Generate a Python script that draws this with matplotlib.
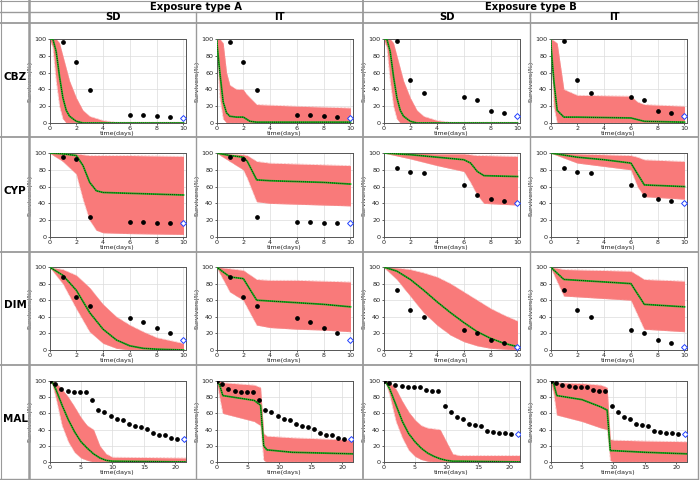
import matplotlib
matplotlib.use('Agg')
import matplotlib.pyplot as plt
from matplotlib.lines import Line2D

# ---------------- labels ----------------
row_names = ['CBZ', 'CYP', 'DIM', 'MAL']
exposure_names = ['Exposure type A', 'Exposure type B']
model_names = ['SD', 'IT']
x_label = 'time(days)'
y_label = 'Survivors(%)'

# ---------------- observations ----------------
obs_t10 = [1, 2, 3, 6, 7, 8, 9, 10]
cbz_A_obs = [97, 73, 39, 9, 9, 8, 7, 6]
cbz_B_obs = [98, 51, 36, 31, 27, 14, 12, 8]
cyp_A_obs = [95, 93, 24, 18, 18, 17, 17, 17]
cyp_B_obs = [82, 77, 76, 62, 50, 45, 43, 40]
dim_A_obs = [88, 64, 53, 38, 34, 27, 20, 12]
dim_B_obs = [72, 48, 40, 24, 20, 12, 8, 4]
obs_t22 = [0, 0.95, 1.9, 2.9, 3.9, 4.85, 5.8, 6.8, 7.75, 8.7, 9.7, 10.65,
           11.6, 12.6, 13.55, 14.5, 15.5, 16.45, 17.4, 18.4, 19.35, 20.3, 21.3]
mal_A_obs = [100, 96, 90, 88, 87, 86, 86, 77, 64, 62, 57, 53, 52, 47, 45, 43,
             41, 36, 33, 33, 30, 29, 28]
mal_B_obs = [100, 98, 95, 94, 93, 93, 92, 89, 88, 88, 69, 62, 56, 53, 47, 46,
             44, 38, 37, 36, 36, 35, 35]

# ---------------- model predictions (median, lower, upper) ----------------
cbz_A_sd_t = [0, 0.25, 0.5, 0.75, 1, 1.25, 1.5, 2, 2.5, 3, 4, 5, 6, 8, 10]
cbz_A_sd_med = [100, 100, 85, 55, 30, 15, 8, 2, 0, 0, 0, 0, 0, 0, 0]
cbz_A_sd_lo = [100, 90, 50, 20, 5, 0, 0, 0, 0, 0, 0, 0, 0, 0, 0]
cbz_A_sd_hi = [100, 100, 100, 95, 80, 65, 50, 30, 15, 8, 3, 1, 1, 1, 1]

cbz_A_it_t = [0, 0.25, 0.5, 0.75, 1, 1.5, 2, 2.2, 2.5, 3, 6, 10]
cbz_A_it_med = [100, 60, 25, 12, 8, 7, 7, 5, 2, 1, 1, 1]
cbz_A_it_lo = [100, 30, 5, 0, 0, 0, 0, 0, 0, 0, 0, 0]
cbz_A_it_hi = [100, 100, 95, 60, 45, 40, 40, 35, 30, 22, 20, 18]

cbz_B_sd_t = [0, 0.25, 0.5, 0.75, 1, 1.25, 1.5, 2, 2.5, 3, 4, 5, 6, 8, 10]
cbz_B_sd_med = [100, 100, 85, 55, 30, 15, 8, 2, 0, 0, 0, 0, 0, 0, 0]
cbz_B_sd_lo = [100, 90, 50, 20, 5, 0, 0, 0, 0, 0, 0, 0, 0, 0, 0]
cbz_B_sd_hi = [100, 100, 100, 95, 80, 65, 50, 30, 15, 8, 3, 1, 1, 1, 1]

cbz_B_it_t = [0, 0.25, 0.5, 1, 2, 6, 6.5, 7, 10]
cbz_B_it_med = [100, 50, 15, 7, 7, 6, 4, 2, 1]
cbz_B_it_lo = [100, 20, 0, 0, 0, 0, 0, 0, 0]
cbz_B_it_hi = [100, 98, 95, 40, 33, 32, 25, 22, 20]

cyp_A_sd_t = [0, 1, 2, 2.5, 3, 3.5, 4, 6, 10]
cyp_A_sd_med = [100, 99, 97, 85, 65, 55, 53, 52, 50]
cyp_A_sd_lo = [100, 90, 75, 45, 20, 8, 5, 4, 3]
cyp_A_sd_hi = [100, 100, 99, 98, 97, 97, 97, 97, 96]

cyp_A_it_t = [0, 1, 2, 2.3, 3, 4, 6, 8, 10]
cyp_A_it_med = [100, 97, 95, 90, 68, 67, 66, 65, 63]
cyp_A_it_lo = [100, 90, 80, 70, 42, 40, 39, 38, 37]
cyp_A_it_hi = [100, 99, 98, 97, 90, 88, 87, 86, 85]

cyp_B_sd_t = [0, 2, 4, 6, 6.5, 7, 7.5, 10]
cyp_B_sd_med = [100, 98, 95, 92, 88, 78, 73, 72]
cyp_B_sd_lo = [100, 93, 85, 78, 65, 50, 40, 38]
cyp_B_sd_hi = [100, 100, 99, 99, 98, 97, 97, 96]

cyp_B_it_t = [0, 2, 4, 6, 6.5, 7, 10]
cyp_B_it_med = [100, 95, 92, 88, 75, 62, 60]
cyp_B_it_lo = [100, 88, 84, 80, 60, 48, 45]
cyp_B_it_hi = [100, 99, 98, 97, 95, 92, 90]

dim_A_sd_t = [0, 1, 2, 3, 4, 5, 6, 7, 8, 10]
dim_A_sd_med = [100, 90, 72, 45, 25, 12, 5, 2, 1, 0]
dim_A_sd_lo = [100, 80, 50, 22, 8, 2, 0, 0, 0, 0]
dim_A_sd_hi = [100, 97, 90, 75, 55, 40, 30, 22, 15, 8]

dim_A_it_t = [0, 1, 2, 3, 4, 6, 8, 10]
dim_A_it_med = [100, 88, 86, 60, 59, 57, 55, 52]
dim_A_it_lo = [100, 70, 60, 30, 27, 25, 24, 22]
dim_A_it_hi = [100, 98, 96, 85, 84, 84, 83, 82]

dim_B_sd_t = [0, 1, 2, 3, 4, 5, 6, 7, 8, 9, 10]
dim_B_sd_med = [100, 95, 85, 72, 58, 45, 33, 22, 14, 8, 4]
dim_B_sd_lo = [100, 85, 65, 45, 30, 18, 10, 5, 2, 1, 0]
dim_B_sd_hi = [100, 99, 97, 93, 88, 80, 70, 60, 50, 42, 35]

dim_B_it_t = [0, 1, 6, 7, 10]
dim_B_it_med = [100, 85, 80, 55, 52]
dim_B_it_lo = [100, 65, 60, 25, 22]
dim_B_it_hi = [100, 97, 95, 85, 83]

mal_A_sd_t = [0, 0.5, 1, 2, 3, 4, 5, 6, 7, 8, 9, 10, 22]
mal_A_sd_med = [100, 98, 90, 70, 52, 37, 25, 17, 10, 5, 2, 1, 0]
mal_A_sd_lo = [100, 95, 80, 45, 25, 12, 5, 2, 0, 0, 0, 0, 0]
mal_A_sd_hi = [100, 100, 98, 90, 80, 68, 55, 45, 40, 20, 10, 6, 5]

mal_A_it_t = [0, 0.5, 1, 6, 7, 7.5, 8, 12, 22]
mal_A_it_med = [100, 95, 82, 76, 70, 20, 15, 12, 10]
mal_A_it_lo = [100, 80, 60, 50, 45, 2, 0, 0, 0]
mal_A_it_hi = [100, 100, 98, 95, 92, 35, 32, 30, 27]

mal_B_sd_t = [0, 0.5, 1, 2, 3, 4, 5, 6, 7, 8, 9, 10, 11, 12, 22]
mal_B_sd_med = [100, 97, 90, 70, 50, 35, 25, 17, 11, 7, 4, 2, 1, 1, 0]
mal_B_sd_lo = [100, 95, 82, 50, 30, 15, 7, 3, 1, 0, 0, 0, 0, 0, 0]
mal_B_sd_hi = [100, 100, 98, 90, 75, 62, 52, 45, 42, 41, 40, 25, 10, 8, 8]

mal_B_it_t = [0, 0.5, 1, 5, 8, 9, 9.5, 10, 15, 22]
mal_B_it_med = [100, 97, 82, 77, 68, 64, 14, 14, 12, 10]
mal_B_it_lo = [100, 85, 58, 50, 42, 40, 2, 0, 0, 0]
mal_B_it_hi = [100, 100, 98, 97, 95, 92, 28, 27, 26, 25]

panels = [
    [(cbz_A_sd_t, cbz_A_sd_med, cbz_A_sd_lo, cbz_A_sd_hi, obs_t10, cbz_A_obs),
     (cbz_A_it_t, cbz_A_it_med, cbz_A_it_lo, cbz_A_it_hi, obs_t10, cbz_A_obs),
     (cbz_B_sd_t, cbz_B_sd_med, cbz_B_sd_lo, cbz_B_sd_hi, obs_t10, cbz_B_obs),
     (cbz_B_it_t, cbz_B_it_med, cbz_B_it_lo, cbz_B_it_hi, obs_t10, cbz_B_obs)],
    [(cyp_A_sd_t, cyp_A_sd_med, cyp_A_sd_lo, cyp_A_sd_hi, obs_t10, cyp_A_obs),
     (cyp_A_it_t, cyp_A_it_med, cyp_A_it_lo, cyp_A_it_hi, obs_t10, cyp_A_obs),
     (cyp_B_sd_t, cyp_B_sd_med, cyp_B_sd_lo, cyp_B_sd_hi, obs_t10, cyp_B_obs),
     (cyp_B_it_t, cyp_B_it_med, cyp_B_it_lo, cyp_B_it_hi, obs_t10, cyp_B_obs)],
    [(dim_A_sd_t, dim_A_sd_med, dim_A_sd_lo, dim_A_sd_hi, obs_t10, dim_A_obs),
     (dim_A_it_t, dim_A_it_med, dim_A_it_lo, dim_A_it_hi, obs_t10, dim_A_obs),
     (dim_B_sd_t, dim_B_sd_med, dim_B_sd_lo, dim_B_sd_hi, obs_t10, dim_B_obs),
     (dim_B_it_t, dim_B_it_med, dim_B_it_lo, dim_B_it_hi, obs_t10, dim_B_obs)],
    [(mal_A_sd_t, mal_A_sd_med, mal_A_sd_lo, mal_A_sd_hi, obs_t22, mal_A_obs),
     (mal_A_it_t, mal_A_it_med, mal_A_it_lo, mal_A_it_hi, obs_t22, mal_A_obs),
     (mal_B_sd_t, mal_B_sd_med, mal_B_sd_lo, mal_B_sd_hi, obs_t22, mal_B_obs),
     (mal_B_it_t, mal_B_it_med, mal_B_it_lo, mal_B_it_hi, obs_t22, mal_B_obs)],
]

# ---------------- layout (pixels) ----------------
W, H = 700, 480
col_left = [29, 196, 363, 530]
col_right_edge = 698
row_top = [23, 137, 252, 365]
row_bottom_edge = 478
axes_top_off = [16, 16, 15, 16]
axes_bot_off = [100, 100, 98, 97]

fig = plt.figure(figsize=(W / 100, H / 100), dpi=100)
fig.patch.set_facecolor('white')


def fx(x):
    return x / W


def fy(y):
    return 1 - y / H


def hline(y, x0, x1, color='#9a9a9a', lw=1.0):
    fig.add_artist(Line2D([fx(x0), fx(x1)], [fy(y), fy(y)], color=color, lw=lw,
                          transform=fig.transFigure))


def vline(x, y0, y1, color='#9a9a9a', lw=1.0):
    fig.add_artist(Line2D([fx(x), fx(x)], [fy(y0), fy(y1)], color=color, lw=lw,
                          transform=fig.transFigure))


# table grid
hline(0.5, 0, 698, lw=0.8)
hline(12, 0, 698)
hline(23, 0, 698, lw=1.3)
for y in row_top[1:]:
    hline(y, 0, 698, lw=1.3)
hline(478.5, 0, 698)
vline(0.5, 0, 478, lw=0.8)
vline(29, 0, 478, lw=1.8)
vline(196, 12, 478)
vline(363, 0, 478, lw=1.3)
vline(530, 12, 478)
vline(698, 0, 478, lw=1.0)

# headers
fig.text(fx((29 + 363) / 2), fy(6.5), exposure_names[0], ha='center', va='center',
         fontsize=7.2, fontweight='bold')
fig.text(fx((363 + 698) / 2), fy(6.5), exposure_names[1], ha='center', va='center',
         fontsize=7.2, fontweight='bold')
for j in range(4):
    cr = col_left[j + 1] if j < 3 else col_right_edge
    fig.text(fx((col_left[j] + cr) / 2), fy(17.5), model_names[j % 2],
             ha='center', va='center', fontsize=7.2, fontweight='bold')
for i in range(4):
    rb = row_top[i + 1] if i < 3 else row_bottom_edge
    fig.text(fx(15), fy((row_top[i] + rb) / 2 - 3), row_names[i], ha='center',
             va='center', fontsize=7.5, fontweight='bold')

band_color = '#f97a7a'
edge_color = '#f4a0a0'

for i in range(4):
    for j in range(4):
        t, med, lo, hi, ot, ov = panels[i][j]
        x0 = col_left[j] + 20.5
        x1 = col_left[j] + 156.5
        y0 = row_top[i] + axes_top_off[i]
        y1 = row_top[i] + axes_bot_off[i]
        ax = fig.add_axes([fx(x0), fy(y1), fx(x1 - x0), (y1 - y0) / H])
        long_run = i == 3
        xmax = 21.6 if long_run else 10.15
        ax.fill_between(t, lo, hi, color=band_color, lw=0, zorder=2)
        ax.plot(t, hi, color=edge_color, lw=0.5, ls=(0, (1, 1)), zorder=2)
        ax.plot(t, lo, color=edge_color, lw=0.5, ls=(0, (1, 1)), zorder=2)
        ax.plot(t, med, color='#1fb21f', lw=1.3, zorder=3)
        ax.plot(t, med, color='black', lw=0.6, ls=(0, (1, 1.5)), zorder=4)
        ax.plot(ot[:-1], ov[:-1], 'o', color='black', ms=2.4, zorder=5)
        ax.plot(ot[-1:], ov[-1:], 'D', mfc='white', mec='#2040ff', mew=0.7,
                ms=3.0, zorder=5)
        ax.set_xlim(0, xmax)
        ax.set_ylim(0, 100)
        ax.set_yticks([0, 20, 40, 60, 80, 100])
        if long_run:
            ax.set_xticks([0, 5, 10, 15, 20])
        else:
            ax.set_xticks([0, 2, 4, 6, 8, 10])
        ax.grid(True, color='#dcdcdc', lw=0.5, zorder=0)
        ax.set_axisbelow(True)
        ax.tick_params(labelsize=4.6, length=1.6, width=0.5, pad=0.8,
                       colors='#222222')
        for s in ax.spines.values():
            s.set_color('#555555')
            s.set_linewidth(0.7)
        ax.set_xlabel(x_label, fontsize=4.6, labelpad=0, color='#222222')
        ax.set_ylabel(y_label, fontsize=4.6, labelpad=1, color='#222222')

fig.savefig('out.png', dpi=100, facecolor='white')
